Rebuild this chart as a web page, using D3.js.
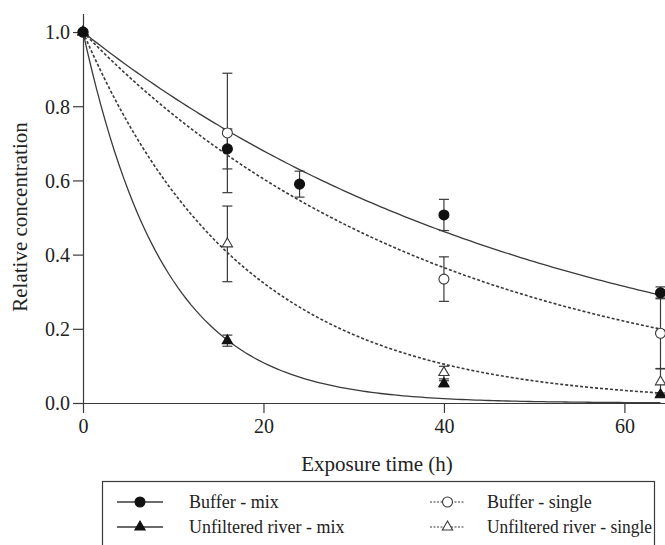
<!DOCTYPE html>
<html>
<head>
<meta charset="utf-8">
<script src="https://cdn.jsdelivr.net/npm/d3@7"></script>
<style>
  body { margin: 0; background: #fff; }
</style>
</head>
<body>
<svg id="drawing_region"></svg>
<script>
// measured points (hours, relative concentration, error)
const bufferMixT = [0, 16, 24, 40, 64];
const bufferMixY = [1.0, 0.685, 0.59, 0.507, 0.297];
const bufferMixE = [0, 0.054, 0.035, 0.042, 0.016];

const bufferSingleT = [0, 16, 40, 64];
const bufferSingleY = [1.0, 0.728, 0.334, 0.188];
const bufferSingleE = [0, 0.161, 0.06, 0.095];

const riverMixT = [0, 16, 40, 64];
const riverMixY = [1.0, 0.168, 0.052, 0.022];
const riverMixE = [0, 0.015, 0.008, 0.005];

const riverSingleT = [0, 16, 40, 64];
const riverSingleY = [1.0, 0.429, 0.082, 0.057];
const riverSingleE = [0, 0.102, 0.017, 0.035];

// first-order fit rate constants (1/h)
const fitRates = [0.0193, 0.0252, 0.111, 0.0564];

const xTicks = [0, 20, 40, 60];
const yTicks = [0, 0.2, 0.4, 0.6, 0.8, 1.0];

const FONT = 'Liberation Serif';

const config = {
    width: 665,
    height: 545,
    left: 83, right: 665, top: 13.5, bottom: 403
};

const svg = d3.select('#drawing_region')
    .attr('width', config.width)
    .attr('height', config.height)
    .attr('font-family', FONT);

const xscale = d3.scaleLinear().domain([0, 64.5]).range([config.left, config.right]);
const yscale = d3.scaleLinear().domain([0, 1.05]).range([config.bottom, config.top]);

const ink = '#3a3a3a';

const xaxis = d3.axisBottom(xscale).tickValues(xTicks).tickSize(10).tickSizeOuter(0).tickPadding(6)
    .tickFormat(d3.format('d'));
const yaxis = d3.axisLeft(yscale).tickValues(yTicks).tickSize(10).tickSizeOuter(0).tickPadding(3)
    .tickFormat(d3.format('.1f'));

const xg = svg.append('g').attr('transform', `translate(0,${config.bottom})`).call(xaxis);
const yg = svg.append('g').attr('transform', `translate(${config.left},0)`).call(yaxis);
[xg, yg].forEach(g => {
    g.attr('font-family', FONT).attr('font-size', 20);
    g.selectAll('path, line').attr('stroke', ink).attr('stroke-width', 1.2);
    g.selectAll('text').attr('fill', '#222');
});
yg.selectAll('text').attr('dy', '0.34em');

svg.append('text')
    .attr('x', 377).attr('y', 471)
    .attr('text-anchor', 'middle')
    .attr('font-family', FONT).attr('font-size', 21).attr('fill', '#222')
    .text('Exposure time (h)');

svg.append('text')
    .attr('transform', 'translate(27,217) rotate(-90)')
    .attr('text-anchor', 'middle')
    .attr('font-family', FONT).attr('font-size', 21).attr('fill', '#222')
    .text('Relative concentration');

const series = [
    { t: bufferMixT, y: bufferMixY, e: bufferMixE, k: fitRates[0], dash: null, shape: 'circle', open: false },
    { t: bufferSingleT, y: bufferSingleY, e: bufferSingleE, k: fitRates[1], dash: '3,2', shape: 'circle', open: true },
    { t: riverMixT, y: riverMixY, e: riverMixE, k: fitRates[2], dash: null, shape: 'triangle', open: false },
    { t: riverSingleT, y: riverSingleY, e: riverSingleE, k: fitRates[3], dash: '3,2', shape: 'triangle', open: true }
];

// fit curves
const curveT = d3.range(0, 64.01, 0.5);
const line = d3.line()
    .x(d => xscale(d.t))
    .y(d => yscale(d.v));

series.forEach(s => {
    svg.append('path')
        .attr('d', line(curveT.map(t => ({ t: t, v: Math.exp(-s.k * t) }))))
        .attr('fill', 'none')
        .attr('stroke', ink)
        .attr('stroke-width', s.dash ? 1.6 : 1.3)
        .attr('stroke-dasharray', s.dash);
});

// error bars
series.forEach(s => {
    s.t.forEach((t, i) => {
        if (s.e[i] <= 0) return;
        const x = xscale(t);
        const y0 = yscale(s.y[i] - s.e[i]);
        const y1 = yscale(s.y[i] + s.e[i]);
        const g = svg.append('g').attr('stroke', ink).attr('stroke-width', 1.2);
        g.append('line').attr('x1', x).attr('x2', x).attr('y1', y0).attr('y2', y1);
        g.append('line').attr('x1', x - 5).attr('x2', x + 5).attr('y1', y0).attr('y2', y0);
        g.append('line').attr('x1', x - 5).attr('x2', x + 5).attr('y1', y1).attr('y2', y1);
    });
});

const circleSym = d3.symbol().type(d3.symbolCircle).size(78);
const triSym = d3.symbol().type(d3.symbolTriangle).size(46);

function drawMarker(g, s, x, y) {
    g.append('path')
        .attr('d', s.shape === 'circle' ? circleSym() : triSym())
        .attr('transform', `translate(${x},${y})`)
        .attr('fill', s.open ? '#fff' : '#111')
        .attr('stroke', s.open ? ink : '#111')
        .attr('stroke-width', 1.1);
}

// open markers first, filled ones on top
[series[3], series[1], series[2], series[0]].forEach(s => {
    s.t.forEach((t, i) => drawMarker(svg, s, xscale(t), yscale(s.y[i])));
});

// legend
const legend = svg.append('g');
legend.append('rect')
    .attr('x', 102.5).attr('y', 481.5).attr('width', 552).attr('height', 70)
    .attr('fill', '#fff').attr('stroke', ink).attr('stroke-width', 1.2);

const legendItems = [
    { label: 'Buffer - mix', s: series[0], x: 117, tx: 189, row: 0 },
    { label: 'Unfiltered river - mix', s: series[2], x: 117, tx: 189, row: 1 },
    { label: 'Buffer - single', s: series[1], x: 430, tx: 487, row: 0 },
    { label: 'Unfiltered river - single', s: series[3], x: 430, tx: 487, row: 1 }
];
legendItems.forEach(it => {
    const cy = 502 + it.row * 25;
    const w = it.s.dash ? 35 : 46;
    legend.append('line')
        .attr('x1', it.x).attr('x2', it.x + w).attr('y1', cy).attr('y2', cy)
        .attr('stroke', ink).attr('stroke-width', it.s.dash ? 1.2 : 1.3)
        .attr('stroke-dasharray', it.s.dash ? '2,1.5' : null);
    drawMarker(legend, it.s, it.x + w / 2, cy);
    const txt = legend.append('text')
        .attr('x', it.tx).attr('y', cy + 6)
        .attr('font-family', FONT).attr('font-size', 18).attr('fill', '#222')
        .text(it.label);
    // keep the long right-hand label inside the box
    const maxW = 652 - it.tx;
    if (txt.node().getComputedTextLength() > maxW) {
        txt.attr('textLength', maxW).attr('lengthAdjust', 'spacingAndGlyphs');
    }
});
</script>
</body>
</html>
